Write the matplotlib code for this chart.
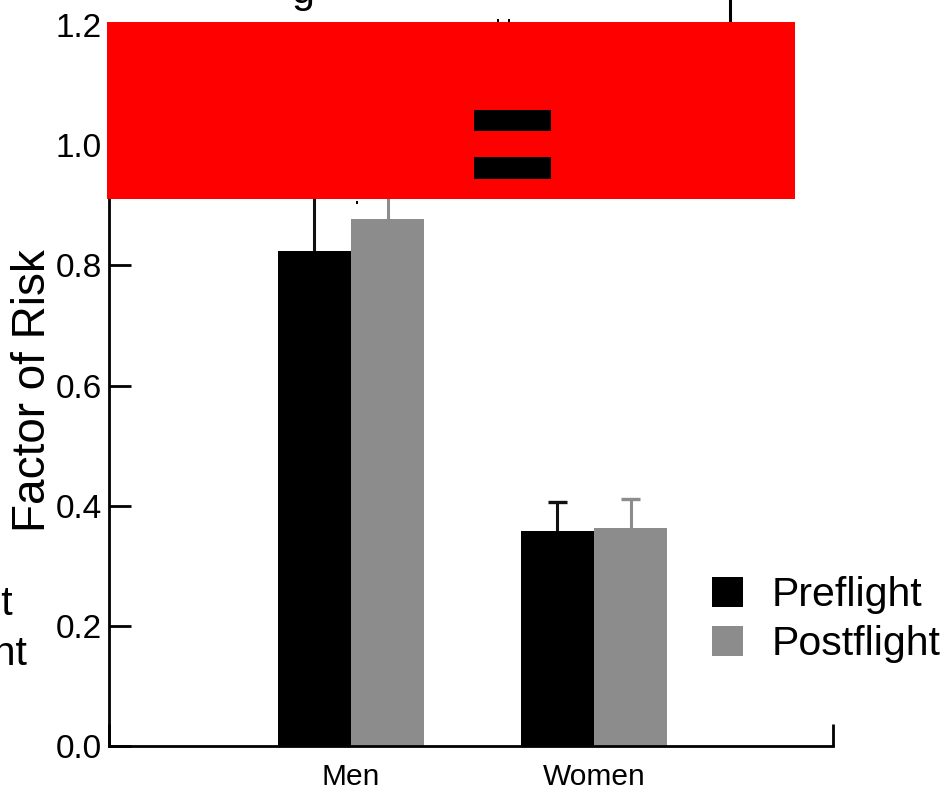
import matplotlib
matplotlib.use("Agg")
import matplotlib.pyplot as plt
from matplotlib.patches import Rectangle
from matplotlib.lines import Line2D
import numpy as np

plt.rcParams['font.family'] = ['Liberation Sans', 'DejaVu Sans']

# ---- data ----
groups = ["Men", "Women"]
series = ["Preflight", "Postflight"]
pre_vals = [0.824, 0.358]
post_vals = [0.877, 0.363]
pre_err = [0.20, 0.048]
post_err = [0.15, 0.048]
y_ticks = [0.0, 0.2, 0.4, 0.6, 0.8, 1.0, 1.2]
y_tick_labels = ["0.0", "0.2", "0.4", "0.6", "0.8", "1.0", "1.2"]

W, H = 945, 793
fig = plt.figure(figsize=(W / 100, H / 100), dpi=100)

def fx(x):
    return x / W

def fy(y):
    return 1 - y / H

ax = fig.add_axes([fx(109), fy(746), (833 - 109) / W, (746 - 25) / H])

BLACK = "#000000"
GRAY = "#8c8c8c"
bw = 0.302
cap = 0.04
x = np.arange(len(groups))

ax.bar(x - bw / 2, pre_vals, bw, color=BLACK, label=series[0], zorder=2)
ax.bar(x + bw / 2, post_vals, bw, color=GRAY, label=series[1], zorder=2)

pre_top = np.array(pre_vals) + np.array(pre_err)
post_top = np.array(post_vals) + np.array(post_err)
ax.vlines(x - bw / 2, pre_vals, pre_top, color="#111111", lw=2.2, zorder=1)
ax.hlines(pre_top, x - bw / 2 - cap, x - bw / 2 + cap, color="#111111", lw=2.4, zorder=1)
ax.vlines(x + bw / 2, post_vals, post_top, color=GRAY, lw=2.2, zorder=1)
ax.hlines(post_top, x + bw / 2 - cap, x + bw / 2 + cap, color=GRAY, lw=2.4, zorder=1)

ax.set_xlim(-0.996, 1.984)
ax.set_ylim(0, 1.2)

for s in ['top', 'right']:
    ax.spines[s].set_visible(False)
for s in ['left', 'bottom']:
    ax.spines[s].set_linewidth(2.0)
    ax.spines[s].set_color('black')

ax.set_yticks(y_ticks)
ax.set_yticklabels(y_tick_labels)
ax.tick_params(axis='y', direction='in', length=16, width=2.0, pad=5,
               labelsize=24)

ax.set_xticks([-0.996, 1.984])
ax.set_xticklabels(["", ""])
ax.tick_params(axis='x', which='major', direction='in', length=16, width=2.0)
ax.set_xticks(x, minor=True)
ax.set_xticklabels(groups, minor=True)
ax.tick_params(axis='x', which='minor', length=0, pad=12, labelsize=21.5)

fig.text(fx(33), fy(391), "Factor of Risk", rotation=90, ha='center',
         va='center', fontsize=33)

leg = ax.legend(loc='upper left', bbox_to_anchor=(fx(712), fy(576)),
                bbox_transform=fig.transFigure, frameon=False, fontsize=29.5,
                handlelength=0.76, handleheight=0.76, handletextpad=0.7,
                borderpad=0, borderaxespad=0, labelspacing=0.28)

# ---- pieces of neighbouring panels cut off at the edges ----
fig.text(fx(13), fy(615), "Preflight", ha='right', va='baseline', fontsize=29.5)
fig.text(fx(28), fy(665), "Postflight", ha='right', va='baseline', fontsize=29.5)
fig.text(fx(303), fy(3), "g", ha='center', va='baseline', fontsize=29.5)
fig.add_artist(Line2D([fx(730), fx(730)], [fy(0), fy(24)], color='black',
                      lw=2.2, transform=fig.transFigure))
for x0 in (497, 508):
    fig.add_artist(Rectangle((fx(x0), fy(22)), 2.5 / W, 3 / H, color='black',
                             transform=fig.transFigure, lw=0))
fig.add_artist(Rectangle((fx(356), fy(203.5)), 2.5 / W, 2.5 / H, color='black',
                         transform=fig.transFigure, lw=0))

# ---- redaction overlay ----
fig.add_artist(Rectangle((fx(107), fy(199)), (795 - 107) / W, (199 - 22) / H,
                         facecolor='#ff0000', edgecolor='none',
                         transform=fig.transFigure, zorder=10))
for y0, y1 in ((110, 131), (157, 179)):
    fig.add_artist(Rectangle((fx(474), fy(y1)), (551 - 474) / W, (y1 - y0) / H,
                             facecolor='black', edgecolor='none',
                             transform=fig.transFigure, zorder=11))

fig.savefig("out.png", dpi=100)
